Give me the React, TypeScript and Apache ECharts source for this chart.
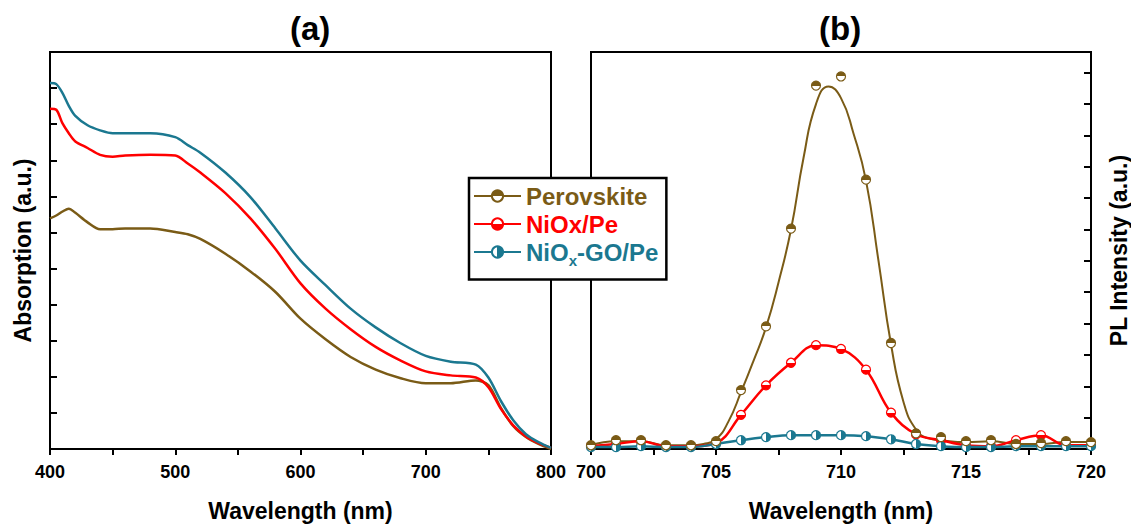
import React, { useEffect, useRef } from "react";
import * as echarts from "echarts";

// ---------- Data ----------
const absWavelength = [400, 405, 410, 415, 420, 430, 440, 450, 460, 480, 500, 510, 520, 540, 560, 580, 600, 620, 640, 660, 680, 700, 720, 740, 750, 760, 770, 780, 790, 800];
const absNiOxGO = [10.14, 10.11, 9.86, 9.51, 9.24, 8.97, 8.83, 8.75, 8.75, 8.75, 8.64, 8.42, 8.21, 7.66, 6.98, 6.11, 5.22, 4.54, 3.89, 3.37, 2.93, 2.58, 2.42, 2.34, 1.98, 1.33, 0.79, 0.41, 0.19, 0.03];
const absNiOx = [9.43, 9.4, 9.02, 8.75, 8.53, 8.34, 8.15, 8.1, 8.13, 8.15, 8.13, 7.91, 7.66, 7.09, 6.39, 5.54, 4.59, 3.89, 3.32, 2.83, 2.45, 2.15, 2.04, 1.98, 1.71, 1.11, 0.65, 0.35, 0.16, 0.03];
const absPerovskite = [6.39, 6.47, 6.58, 6.66, 6.55, 6.28, 6.09, 6.09, 6.11, 6.11, 6.01, 5.95, 5.82, 5.41, 4.92, 4.35, 3.61, 3.04, 2.55, 2.2, 1.96, 1.82, 1.82, 1.9, 1.77, 1.14, 0.63, 0.33, 0.14, 0.0];

const plWavelength = [700, 701, 702, 703, 704, 705, 706, 707, 708, 709, 710, 711, 712, 713, 714, 715, 716, 717, 718, 719, 720];
const plPerovskite = [0.12, 0.28, 0.28, 0.12, 0.12, 0.25, 1.88, 3.91, 7.03, 11.59, 11.88, 8.59, 3.38, 0.5, 0.38, 0.25, 0.28, 0.16, 0.19, 0.25, 0.22];
const plNiOx = [0.09, 0.16, 0.25, 0.09, 0.09, 0.19, 1.09, 2.03, 2.75, 3.31, 3.19, 2.53, 1.16, 0.47, 0.28, 0.12, 0.09, 0.28, 0.44, 0.12, 0.12];
const plNiOxGO = [0.06, 0.06, 0.09, 0.06, 0.06, 0.16, 0.28, 0.38, 0.44, 0.44, 0.44, 0.41, 0.31, 0.16, 0.09, 0.06, 0.06, 0.09, 0.09, 0.09, 0.09];

const fitWavelength = [700, 701, 702, 703, 704, 704.5, 705, 705.5, 706, 706.5, 707, 707.5, 708, 708.5, 709, 709.5, 710, 710.5, 711, 711.5, 712, 712.5, 713, 713.5, 714, 715, 716, 717, 718, 719, 720];
const fitPerovskite = [0.12, 0.25, 0.25, 0.12, 0.12, 0.16, 0.31, 0.88, 1.81, 2.81, 3.88, 5.31, 7.0, 9.28, 11.0, 11.56, 11.19, 10.06, 8.56, 6.0, 3.34, 1.5, 0.62, 0.34, 0.28, 0.22, 0.25, 0.16, 0.16, 0.22, 0.22];

const seriesNames = ["Perovskite", "NiOx/Pe", "NiOx-GO/Pe"];
const panelTitles = ["(a)", "(b)"];

// ---------- Styles ----------
const BROWN = "#7a5b16";
const RED = "#ff0000";
const TEAL = "#1b7890";
const FONT = "'Liberation Sans', Arial, sans-serif";

const zip = (xs: number[], ys: number[]) => xs.map((x, i) => [x, ys[i]]);

const halfFill = (color: string, dir: "top" | "bottom" | "right") => {
  const stopsFilledFirst = [
    { offset: 0, color },
    { offset: 0.5, color },
    { offset: 0.5, color: "#ffffff" },
    { offset: 1, color: "#ffffff" },
  ];
  const stopsFilledLast = [
    { offset: 0, color: "#ffffff" },
    { offset: 0.5, color: "#ffffff" },
    { offset: 0.5, color },
    { offset: 1, color },
  ];
  if (dir === "top") return { type: "linear", x: 0, y: 0, x2: 0, y2: 1, colorStops: stopsFilledFirst };
  if (dir === "bottom") return { type: "linear", x: 0, y: 0, x2: 0, y2: 1, colorStops: stopsFilledLast };
  return { type: "linear", x: 0, y: 0, x2: 1, y2: 0, colorStops: stopsFilledLast };
};

export default function App() {
  const ref = useRef<HTMLDivElement>(null);

  useEffect(() => {
    if (!ref.current) return;
    const chart = echarts.init(ref.current, null, { renderer: "svg" });

    const axisCommon = {
      axisLine: { show: true, onZero: false, lineStyle: { color: "#000", width: 2 } },
      splitLine: { show: false },
    };
    const xLabel = { color: "#000", fontSize: 18, fontWeight: "bold", fontFamily: FONT, margin: 14 };
    const nameStyle = { color: "#000", fontSize: 23, fontWeight: "bold", fontFamily: FONT };

    const option: any = {
      animation: false,
      backgroundColor: "#fff",
      textStyle: { fontFamily: FONT },
      graphic: [
        { type: "text", left: 290, top: 12, style: { text: panelTitles[0], font: `bold 33px ${FONT}`, fill: "#000" } },
        { type: "text", left: 819, top: 12, style: { text: panelTitles[1], font: `bold 33px ${FONT}`, fill: "#000" } },
      ],
      grid: [
        { left: 50, top: 52, width: 501, height: 405, show: true, borderColor: "#000", borderWidth: 2, backgroundColor: "transparent" },
        { left: 591, top: 52, width: 500, height: 405, show: true, borderColor: "#000", borderWidth: 2, backgroundColor: "transparent" },
      ],
      xAxis: [
        {
          ...axisCommon,
          type: "value",
          gridIndex: 0,
          min: 400,
          max: 800,
          interval: 100,
          axisTick: { show: true, length: 6, lineStyle: { color: "#000", width: 2 } },
          minorTick: { show: true, splitNumber: 2, length: 6, lineStyle: { color: "#000", width: 2 } },
          axisLabel: xLabel,
          name: "Wavelength (nm)",
          nameLocation: "middle",
          nameGap: 50,
          nameTextStyle: nameStyle,
        },
        {
          ...axisCommon,
          type: "value",
          gridIndex: 1,
          min: 700,
          max: 720,
          interval: 5,
          axisTick: { show: true, length: 6, lineStyle: { color: "#000", width: 2 } },
          minorTick: { show: true, splitNumber: 2, length: 6, lineStyle: { color: "#000", width: 2 } },
          axisLabel: xLabel,
          name: "Wavelength (nm)",
          nameLocation: "middle",
          nameGap: 50,
          nameTextStyle: nameStyle,
        },
      ],
      yAxis: [
        {
          ...axisCommon,
          type: "value",
          gridIndex: 0,
          min: 0,
          max: 11,
          interval: 1,
          axisTick: { show: true, inside: true, length: 7, lineStyle: { color: "#000", width: 2 } },
          axisLabel: { show: false },
          name: "Absorption (a.u.)",
          nameLocation: "middle",
          nameGap: 16,
          nameRotate: 90,
          nameTextStyle: nameStyle,
        },
        {
          ...axisCommon,
          type: "value",
          gridIndex: 1,
          position: "right",
          min: 0,
          max: 12.66,
          interval: 1,
          axisTick: { show: true, inside: true, length: 7, lineStyle: { color: "#000", width: 2 } },
          axisLabel: { show: false },
          name: "PL Intensity (a.u.)",
          nameLocation: "middle",
          nameGap: 16,
          nameRotate: 90,
          nameTextStyle: nameStyle,
        },
      ],
      legend: {
        orient: "vertical",
        left: 469,
        top: 178,
        padding: [6, 8, 12, 4],
        itemGap: 4,
        itemWidth: 47,
        itemHeight: 14,
        backgroundColor: "#fff",
        borderColor: "#000",
        borderWidth: 2.5,
        borderRadius: 0,
        z: 10,
        selectedMode: false,
        data: [
          { name: seriesNames[0], lineStyle: { width: 2, color: BROWN, opacity: 1 } },
          { name: seriesNames[1] },
          { name: seriesNames[2] },
        ],
        formatter: (name: string) => {
          if (name === seriesNames[0]) return `{b|${name}}`;
          if (name === seriesNames[1]) return `{r|${name}}`;
          return "{t|NiO}{ts|x}{t|-GO/Pe}";
        },
        textStyle: {
          fontSize: 24,
          fontWeight: "bold",
          fontFamily: FONT,
          rich: {
            b: { color: BROWN, fontSize: 24, fontWeight: "bold", fontFamily: FONT },
            r: { color: RED, fontSize: 24, fontWeight: "bold", fontFamily: FONT },
            t: { color: TEAL, fontSize: 24, fontWeight: "bold", fontFamily: FONT },
            ts: { color: TEAL, fontSize: 15, fontWeight: "bold", fontFamily: FONT, verticalAlign: "bottom", padding: [16, 0, 0, 0] },
          },
        },
      },
      series: [
        // Panel (a)
        {
          name: "Perovskite abs",
          type: "line",
          xAxisIndex: 0,
          yAxisIndex: 0,
          data: zip(absWavelength, absPerovskite),
          showSymbol: false,
          smooth: 0.3,
          lineStyle: { color: BROWN, width: 2.5 },
          itemStyle: { color: BROWN },
        },
        {
          name: "NiOx/Pe abs",
          type: "line",
          xAxisIndex: 0,
          yAxisIndex: 0,
          data: zip(absWavelength, absNiOx),
          showSymbol: false,
          smooth: 0.3,
          lineStyle: { color: RED, width: 2.5 },
          itemStyle: { color: RED },
        },
        {
          name: "NiOx-GO/Pe abs",
          type: "line",
          xAxisIndex: 0,
          yAxisIndex: 0,
          data: zip(absWavelength, absNiOxGO),
          showSymbol: false,
          smooth: 0.3,
          lineStyle: { color: TEAL, width: 2.5 },
          itemStyle: { color: TEAL },
        },
        // Panel (b)
        {
          name: "Perovskite fit",
          type: "line",
          xAxisIndex: 1,
          yAxisIndex: 1,
          data: zip(fitWavelength, fitPerovskite),
          showSymbol: false,
          smooth: 0.5,
          lineStyle: { color: BROWN, width: 2 },
          itemStyle: { color: BROWN },
          z: 2,
        },
        {
          name: seriesNames[1],
          type: "line",
          xAxisIndex: 1,
          yAxisIndex: 1,
          data: zip(plWavelength, plNiOx),
          symbol: "circle",
          symbolSize: 9,
          smooth: 0.4,
          lineStyle: { color: RED, width: 2.5 },
          itemStyle: { color: halfFill(RED, "bottom"), borderColor: RED, borderWidth: 1.2 },
          z: 3,
        },
        {
          name: seriesNames[2],
          type: "line",
          xAxisIndex: 1,
          yAxisIndex: 1,
          data: zip(plWavelength, plNiOxGO),
          symbol: "circle",
          symbolSize: 9,
          smooth: 0.4,
          lineStyle: { color: TEAL, width: 2.5 },
          itemStyle: { color: halfFill(TEAL, "right"), borderColor: TEAL, borderWidth: 1.2 },
          z: 3,
        },
        {
          name: seriesNames[0],
          type: "line",
          xAxisIndex: 1,
          yAxisIndex: 1,
          data: zip(plWavelength, plPerovskite),
          symbol: "circle",
          symbolSize: 9,
          showAllSymbol: true,
          lineStyle: { color: BROWN, width: 0, opacity: 0 },
          itemStyle: { color: halfFill(BROWN, "top"), borderColor: BROWN, borderWidth: 1.2 },
          z: 4,
        },
      ],
    };

    chart.setOption(option);
    return () => chart.dispose();
  }, []);

  return <div ref={ref} style={{ position: "fixed", left: 0, top: 0, width: 1131, height: 527 }} />;
}
